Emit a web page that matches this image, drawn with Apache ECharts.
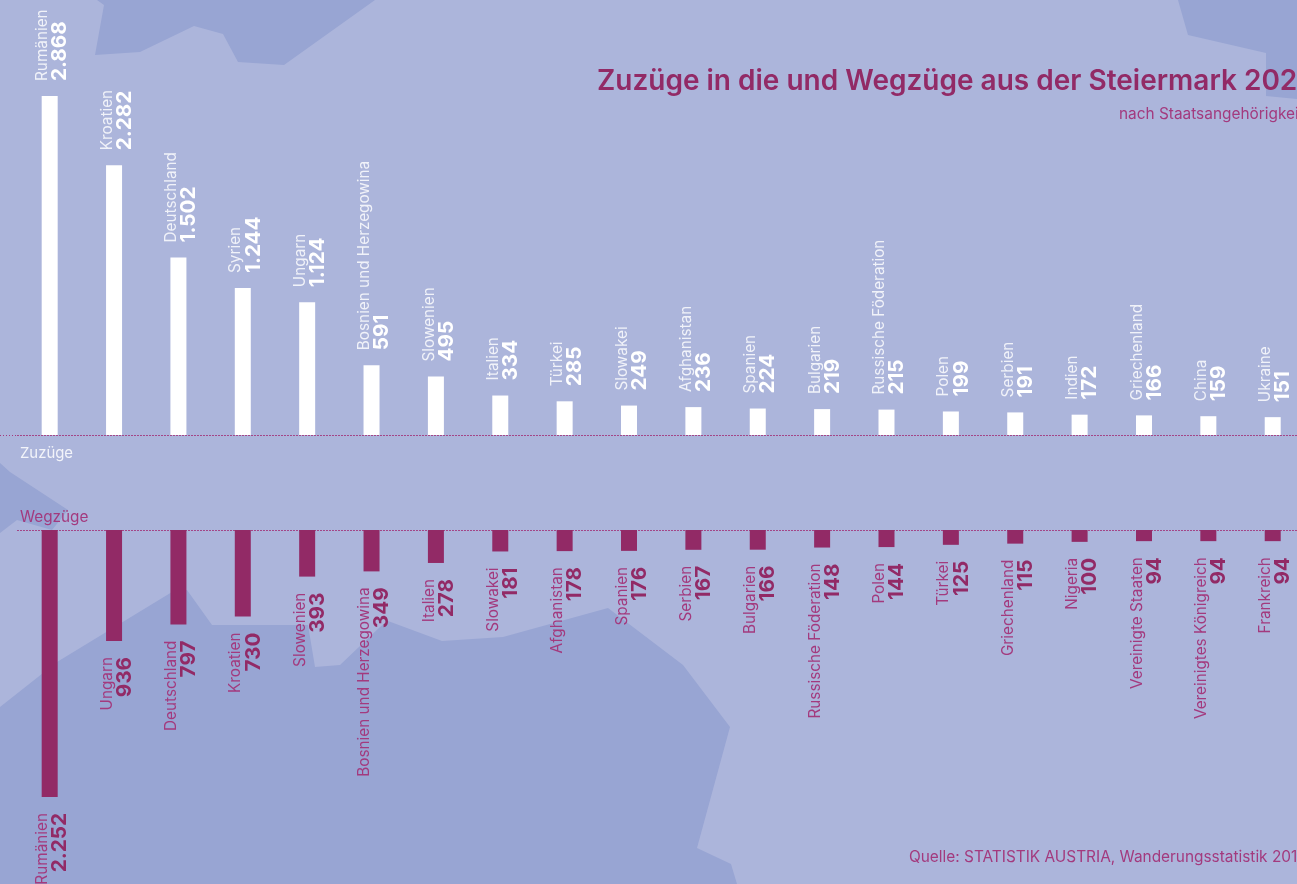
<!DOCTYPE html>
<html>
<head>
<meta charset="utf-8">
<style>html,body{margin:0;padding:0;background:#acb5db;overflow:hidden}#c{width:1297px;height:884px}</style>
<script src="https://cdn.jsdelivr.net/npm/echarts@6/dist/echarts.min.js"></script>
</head>
<body>
<div id="c"></div>
<script>
const inCountries = ['Rumänien','Kroatien','Deutschland','Syrien','Ungarn','Bosnien und Herzegowina','Slowenien','Italien','Türkei','Slowakei','Afghanistan','Spanien','Bulgarien','Russische Föderation','Polen','Serbien','Indien','Griechenland','China','Ukraine'];
const inValues = [2868,2282,1502,1244,1124,591,495,334,285,249,236,224,219,215,199,191,172,166,159,151];
const outCountries = ['Rumänien','Ungarn','Deutschland','Kroatien','Slowenien','Bosnien und Herzegowina','Italien','Slowakei','Afghanistan','Spanien','Serbien','Bulgarien','Russische Föderation','Polen','Türkei','Griechenland','Nigeria','Vereinigte Staaten','Vereinigtes Königreich','Frankreich'];
const outValues = [2252,936,797,730,393,349,278,181,178,176,167,166,148,144,125,115,100,94,94,94];

const FONT = 'Inter';
const PURPLE = '#922a66';
const SOFT = '#a33a7e';
const fmt = v => String(v).replace(/\B(?=(\d{3})+$)/g, '.');
const poly = pts => ({type:'polygon', silent:true, z:-10, shape:{points:pts}, style:{fill:'#98a5d3'}});

const option = {
  animation:false,
  backgroundColor:'#acb5db',
  textStyle:{fontFamily:FONT},
  title:[
    {text:'Zuzüge in die und Wegzüge aus der Steiermark 2021', left:597, top:68, padding:0, textStyle:{fontFamily:FONT,fontSize:28,fontWeight:600,color:PURPLE}},
    {text:'nach Staatsangehörigkeit', left:1119, top:107, padding:0, textStyle:{fontFamily:FONT,fontSize:15.4,fontWeight:400,color:SOFT}},
    {text:'Quelle: STATISTIK AUSTRIA, Wanderungsstatistik 2018', left:909, top:850, padding:0, textStyle:{fontFamily:FONT,fontSize:15.4,fontWeight:400,color:SOFT}},
    {text:'Zuzüge', left:20, top:446, padding:0, textStyle:{fontFamily:FONT,fontSize:14.9,fontWeight:400,color:'rgba(255,255,255,0.85)'}},
    {text:'Wegzüge', left:20, top:510, padding:0, textStyle:{fontFamily:FONT,fontSize:15.3,fontWeight:400,color:SOFT}}
  ],
  grid:[
    {left:17.5, top:0, width:1287.4, height:435, outerBoundsMode:'none'},
    {left:17.5, top:530, width:1287.4, height:354, outerBoundsMode:'none'}
  ],
  xAxis:[
    {type:'category', gridIndex:0, data:inCountries, axisTick:{show:false}, axisLabel:{show:false},
     axisLine:{show:true, lineStyle:{color:SOFT, type:[1,2], width:1}}},
    {type:'category', gridIndex:1, position:'top', data:outCountries, axisTick:{show:false}, axisLabel:{show:false},
     axisLine:{show:true, lineStyle:{color:SOFT, type:[1,2], width:1}}}
  ],
  yAxis:[
    {type:'value', gridIndex:0, min:0, max:3680, show:false, splitLine:{show:false}},
    {type:'value', gridIndex:1, min:0, max:2985, inverse:true, show:false, splitLine:{show:false}}
  ],
  series:[
    {type:'bar', name:'Zuzüge', xAxisIndex:0, yAxisIndex:0, data:inValues, barWidth:16, itemStyle:{color:'#ffffff'},
     label:{show:true, position:'top', rotate:90, align:'left', verticalAlign:'middle', distance:15, offset:[0,2],
       formatter:p=>`{n|${p.name}}\n{v|${fmt(p.value)}}`,
       rich:{n:{fontFamily:FONT,fontSize:15.3,lineHeight:17,color:'rgba(255,255,255,0.82)'},
             v:{fontFamily:FONT,fontSize:20.7,fontWeight:700,lineHeight:18,color:'#ffffff'}}}},
    {type:'bar', name:'Wegzüge', xAxisIndex:1, yAxisIndex:1, data:outValues, barWidth:16, itemStyle:{color:PURPLE},
     label:{show:true, position:'bottom', rotate:90, align:'right', verticalAlign:'middle', distance:16, offset:[0,2],
       formatter:p=>`{n|${p.name}}\n{v|${fmt(p.value)}}`,
       rich:{n:{fontFamily:FONT,fontSize:15.3,lineHeight:17,color:SOFT},
             v:{fontFamily:FONT,fontSize:20.7,fontWeight:700,lineHeight:18,color:PURPLE}}}}
  ],
  graphic:[
    poly([[97,0],[104,5],[95,55],[140,52],[194,26],[223,34],[238,62],[284,65],[375,0]]),
    poly([[1178,0],[1188,35],[1266,53],[1266,96],[1297,99],[1297,0]]),
    poly([[0,463],[10,472],[68,510],[52,530],[17,520],[0,533]]),
    poly([[0,707],[57,662],[172,592],[187,590],[212,625],[308,625],[315,667],[340,665],[380,627],[388,621],[442,641],[503,637],[608,608],[683,665],[730,727],[697,848],[731,864],[737,884],[0,884]]),
    {type:'line', silent:true, shape:{x1:0,y1:435.5,x2:17.5,y2:435.5}, style:{stroke:SOFT,lineWidth:1,lineDash:[1,2]}}
  ]
};
const chart = echarts.init(document.getElementById('c'), null, {renderer:'canvas'});
chart.setOption(option);
</script>
</body>
</html>
